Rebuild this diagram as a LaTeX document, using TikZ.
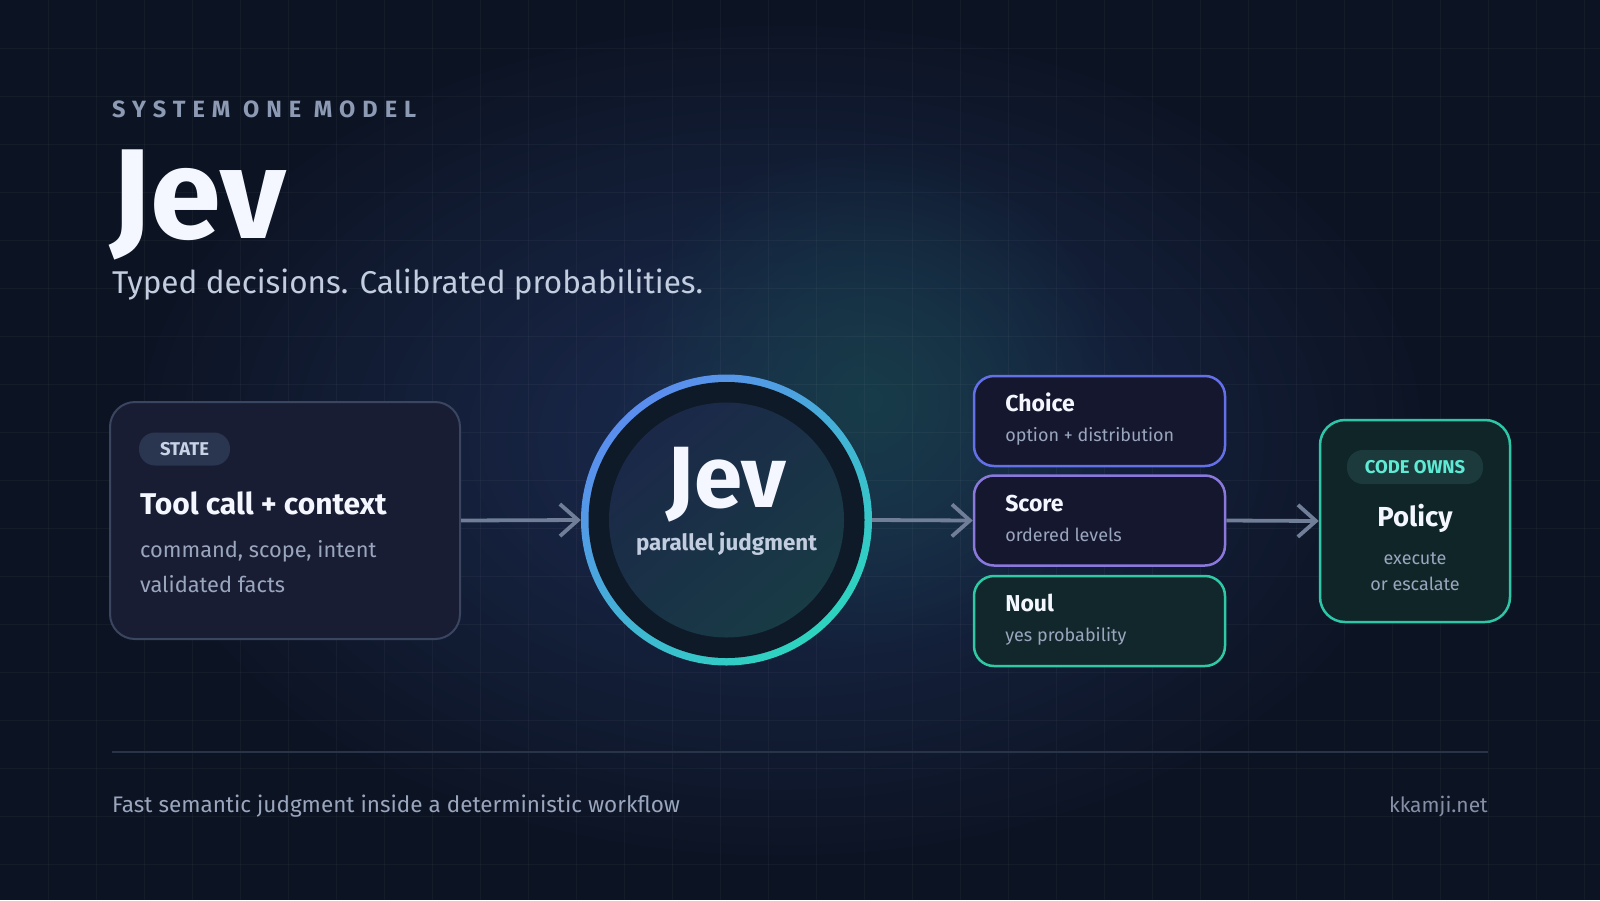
\documentclass[tikz,border=0pt]{standalone}
\usepackage{fontspec}
\setmainfont{Fira Sans}
\newfontfamily\spacedfont[LetterSpace=30]{Fira Sans}
\usetikzlibrary{arrows.meta,positioning,fadings}

\definecolor{bgnavy}{HTML}{0C1322}
\definecolor{glowblue}{HTML}{1C2C52}
\definecolor{glowteal}{HTML}{173C48}
\definecolor{inkwhite}{HTML}{F4F7FF}
\definecolor{labelgray}{HTML}{8D9AB4}
\definecolor{subgray}{HTML}{C3CDE0}
\definecolor{mutedgray}{HTML}{9AA6BD}
\definecolor{arrowgray}{HTML}{717E98}
\definecolor{statefill}{HTML}{181D33}
\definecolor{stateedge}{HTML}{3A4560}
\definecolor{pillfill}{HTML}{2A3550}
\definecolor{pilltext}{HTML}{C8D3E6}
\definecolor{ringblue}{HTML}{5B8DEF}
\definecolor{ringteal}{HTML}{2DD4BF}
\definecolor{coredark}{HTML}{0F1A28}
\definecolor{coreblue}{HTML}{1B2848}
\definecolor{coreteal}{HTML}{183B45}
\definecolor{choiceedge}{HTML}{6470E8}
\definecolor{scoreedge}{HTML}{8A78DC}
\definecolor{noulpedge}{HTML}{2FC9A4}
\definecolor{headfill}{HTML}{15172F}
\definecolor{noulfill}{HTML}{12272B}
\definecolor{policyfill}{HTML}{0F2528}
\definecolor{policyedge}{HTML}{2EC6A6}
\definecolor{ownsfill}{HTML}{1C3A3C}
\definecolor{ownstext}{HTML}{5EEAD4}
\definecolor{footline}{HTML}{2A3448}

\tikzfading[name=glowfade, inner color=transparent!0, outer color=transparent!100]

\begin{document}
\begin{tikzpicture}[x=1pt,y=-1pt,
  gridline/.style={draw=white, draw opacity=0.035, line width=1pt},
  card/.style={rounded corners=25pt, line width=2pt, inner sep=0pt},
  head/.style={rounded corners=20pt, line width=2.5pt, fill=headfill, minimum width=251pt, minimum height=90pt, inner sep=0pt},
  pill/.style={rounded corners=16pt, inner sep=0pt, font=\bfseries\fontsize{18.5}{20}\selectfont},
  headtitle/.style={anchor=base west, text=inkwhite, font=\bfseries\fontsize{23}{28}\selectfont},
  headsub/.style={anchor=base west, text=mutedgray, font=\fontsize{18}{22}\selectfont},
  flow/.style={draw=arrowgray, line width=3.8pt, -{Straight Barb[length=18pt,width=32pt]}}]
\useasboundingbox (0,0) rectangle (1600,900);
\fill[bgnavy] (0,0) rectangle (1600,900);
\fill[glowblue, path fading=glowfade] (780,440) ellipse[x radius=680, y radius=440];
\fill[glowteal, path fading=glowfade] (870,400) circle[radius=260];
\foreach \x in {48,96,...,1584} { \draw[gridline] (\x,0) -- (\x,900); };
\foreach \y in {48,96,...,864} { \draw[gridline] (0,\y) -- (1600,\y); };

% heading
\node[anchor=base west, inner sep=0pt, text=labelgray, font=\spacedfont\bfseries\fontsize{23.5}{26}\selectfont] (kicker) at (112,117) {SYSTEM ONE MODEL};
\node[anchor=base west, inner sep=0pt, text=inkwhite, font=\bfseries\fontsize{128}{130}\selectfont] (title) at (110,238) {Jev};
\node[anchor=base west, inner sep=0pt, text=subgray, font=\fontsize{31.5}{34}\selectfont] (tagline) at (112,293) {Typed decisions. Calibrated probabilities.};

% input card
\node[card, fill=statefill, draw=stateedge, minimum width=350pt, minimum height=237pt] (state) at (285,520.5) {};
\node[pill, fill=pillfill, text=pilltext, minimum width=91pt, minimum height=33pt] (statetag) at (184.5,449) {STATE};
\node[anchor=base west, inner sep=0pt, text=inkwhite, font=\bfseries\fontsize{30}{34}\selectfont] (statetitle) at (140,514) {Tool call + context};
\node[anchor=base west, inner sep=0pt, text=mutedgray, font=\fontsize{21.8}{26}\selectfont] (stateline1) at (140,557) {command, scope, intent};
\node[anchor=base west, inner sep=0pt, text=mutedgray, font=\fontsize{21.8}{26}\selectfont] (stateline2) at (140,592) {validated facts};

% core model
\node[circle, minimum size=291pt, inner sep=0pt] (core) at (726.5,520) {};
\shade[top color=ringblue, bottom color=ringteal, shading angle=40] (core.center) circle[radius=145.5];
\fill[coredark] (core.center) circle[radius=138];
\shade[top color=coreblue, bottom color=coreteal, shading angle=40] (core.center) circle[radius=117.5];
\node[anchor=base, inner sep=0pt, text=inkwhite, font=\bfseries\fontsize{87}{90}\selectfont] (coretitle) at (726.5,507) {Jev};
\node[anchor=base, inner sep=0pt, text=subgray, font=\bfseries\fontsize{22.4}{26}\selectfont] (coresub) at (726.5,550) {parallel judgment};

% output heads
\node[head, draw=choiceedge] (choice) at (1099.5,421) {};
\node[head, draw=scoreedge] (score) at (1099.5,520.5) {};
\node[head, draw=noulpedge, fill=noulfill] (noul) at (1099.5,621) {};
\foreach \n/\t/\s in {choice/Choice/option + distribution, score/Score/ordered levels, noul/Noul/yes probability} {
  \node[headtitle] (\n-title) at ([shift={(29,37)}]\n.north west) {\t};
  \node[headsub] (\n-sub) at ([shift={(29,67)}]\n.north west) {\s};
};

% policy
\node[card, fill=policyfill, draw=policyedge, line width=2.5pt, minimum width=190pt, minimum height=202pt] (policy) at (1415,521) {};
\node[pill, fill=ownsfill, text=ownstext, minimum width=136pt, minimum height=34pt] (owns) at (1415,467) {CODE OWNS};
\node[anchor=base, inner sep=0pt, text=inkwhite, font=\bfseries\fontsize{27.5}{30}\selectfont] (policytitle) at (1415,526) {Policy};
\node[anchor=base, inner sep=0pt, text=mutedgray, font=\fontsize{18}{22}\selectfont] (policyline1) at (1415,564) {execute};
\node[anchor=base, inner sep=0pt, text=mutedgray, font=\fontsize{18}{22}\selectfont] (policyline2) at (1415,590) {or escalate};

% connectors
\draw[flow] (state.east) -- (core.west);
\draw[flow] (core.east) -- (score.west);
\draw[flow] (score.east) -- (policy.west);

% footer
\coordinate (footl) at (112,752); \coordinate (footr) at (1488,752);
\draw[footline, line width=1.2pt] (footl) -- (footr);
\node[anchor=base west, inner sep=0pt, text=mutedgray, font=\fontsize{22.5}{26}\selectfont] (footnote) at (112,812) {Fast semantic judgment inside a deterministic workflow};
\node[anchor=base east, inner sep=0pt, text=mutedgray!85!bgnavy, font=\fontsize{21}{26}\selectfont] (site) at (1488,812) {kkamji.net};
\end{tikzpicture}
\end{document}
